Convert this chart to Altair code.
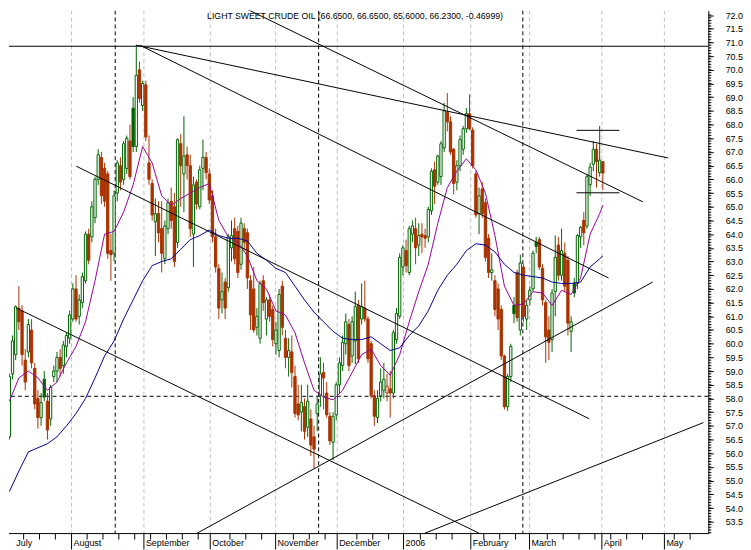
import altair as alt
import pandas as pd

title_text = "LIGHT SWEET CRUDE OIL (66.6500, 66.6500, 65.6000, 66.2300, -0.46999)"

# ---- daily candles (bar index 0 = first session of July 2005) ----
opens = [
    56.6, 58.9, 59.6, 61.3, 61.2, 59.4, 59.7, 60.5, 59.1, 58.0, 57.3, 58.7, 57.9, 57.25, 58.8, 59.0, 59.5, 59.2, 59.9, 60.2,
    60.9, 62.0, 61.0, 61.5, 62.3, 64.0, 63.9, 64.6, 66.0, 66.8, 66.4, 66.2, 63.4, 63.3, 65.5, 66.5, 66.0, 66.4, 67.4, 68.6, 67.2, 70.0, 68.7,
    69.45, 66.6, 65.85, 64.45, 64.75, 64.2, 63.1, 64.2, 65.2, 65.0, 63.7, 67.3, 66.2, 66.9, 66.5, 64.0, 65.9, 65.0, 66.4, 66.8,
    66.2, 65.4, 63.9, 62.75, 61.6, 62.25, 62.05, 63.5, 64.2, 64.1, 62.9, 64.2, 64.05, 62.3, 62.0, 60.6, 60.2, 62.3, 60.9, 61.6, 61.25, 60.0,
    59.75, 62.1, 60.2, 59.5, 59.7, 58.8, 57.8, 57.5, 57.7, 56.95, 57.25, 56.6, 57.45, 58.1, 58.95, 58.2, 57.35, 56.4, 57.4, 58.5, 59.2,
    60.0, 60.7, 59.55, 60.1, 61.4, 60.9, 61.3, 60.9, 60.0, 58.1, 57.3, 58.1, 58.3, 58.2, 58.35, 58.2, 60.15, 61.0,
    62.8, 63.4, 62.6, 64.0, 64.2, 63.6, 64.0, 63.95, 63.9, 64.85, 66.35, 65.9, 66.1, 67.15, 68.45, 68.1, 67.1, 65.9, 66.5, 67.1, 67.85, 68.4,
    67.8, 66.2, 64.75, 65.65, 65.15, 63.85, 62.6, 62.3, 62.0, 61.25, 59.55, 57.7, 58.8, 61.4, 62.6, 60.5, 62.8, 60.9,
    61.6, 62.0, 63.7, 63.8, 62.75, 61.5, 60.5, 60.15, 61.9, 63.6, 62.5, 63.3, 63.05, 60.45, 62.2, 62.2, 63.9, 64.5, 64.3, 65.8, 66.55, 67.1, 66.25, 66.65,
]
highs = [
    58.9, 60.3, 61.4, 62.1, 61.4, 59.8, 60.9, 60.9, 59.3, 58.3, 58.2, 59.0, 58.2, 58.5, 59.2, 59.7, 59.8, 60.1, 60.4, 61.2,
    62.2, 62.5, 61.8, 62.6, 64.1, 64.2, 65.2, 66.1, 67.1, 67.0, 66.6, 66.3, 64.0, 65.6, 66.7, 66.8, 67.4, 67.6, 68.0, 69.0, 70.9, 70.3, 69.6,
    69.6, 67.6, 66.0, 65.3, 65.2, 65.2, 64.5, 65.3, 65.7, 65.5, 67.5, 67.65, 68.3, 67.2, 66.9, 66.1, 66.0, 66.5, 67.45, 67.0,
    66.4, 65.6, 64.2, 62.9, 62.6, 62.4, 64.0, 64.5, 64.6, 64.3, 64.6, 64.4, 64.2, 62.5, 62.8, 61.3, 62.3, 62.5, 61.7, 61.8, 61.4, 60.8,
    62.0, 62.3, 60.5, 60.2, 60.3, 59.2, 58.5, 58.5, 58.0, 58.5, 57.6, 57.0, 58.1, 59.5, 59.3, 58.6, 57.5, 57.5, 58.6, 59.5, 60.3,
    61.1, 60.9, 61.0, 61.9, 61.6, 62.2, 62.3, 61.0, 60.1, 58.3, 58.3, 59.1, 59.3, 58.9, 59.0, 60.5, 61.3, 63.3,
    63.6, 63.8, 64.3, 64.5, 64.6, 64.4, 64.4, 64.2, 65.0, 66.4, 66.65, 66.9, 67.4, 68.8, 69.15, 68.3, 67.15, 66.7, 67.6, 67.95, 68.6, 69.1,
    67.9, 66.3, 65.7, 65.9, 65.3, 64.0, 63.3, 62.5, 62.2, 61.4, 59.6, 58.9, 60.0, 61.7, 62.7, 63.25, 62.9, 61.6,
    62.1, 63.4, 63.9, 63.9, 62.9, 61.6, 61.0, 62.0, 63.95, 63.9, 64.2, 63.7, 63.2, 61.0, 62.4, 64.0, 64.3, 64.8, 66.2, 66.6, 67.4, 67.3, 67.95, 66.65,
]
lows = [
    56.5, 58.7, 59.4, 60.5, 59.2, 58.3, 59.5, 59.1, 57.6, 56.9, 57.0, 57.9, 56.5, 57.0, 58.6, 58.6, 58.8, 58.9, 59.5, 60.0,
    60.8, 60.8, 60.7, 61.3, 62.2, 62.9, 63.7, 64.4, 65.8, 65.1, 65.0, 63.1, 62.3, 63.0, 65.2, 65.6, 65.8, 66.2, 66.0, 67.0, 67.0, 68.8, 68.5,
    67.4, 65.8, 64.5, 63.2, 63.7, 62.6, 62.9, 64.0, 64.2, 62.8, 63.5, 65.0, 64.8, 66.0, 63.9, 62.8, 64.9, 64.9, 65.6, 66.0,
    65.1, 63.7, 62.6, 60.9, 61.1, 60.9, 61.9, 63.0, 62.9, 62.4, 62.7, 63.4, 62.0, 60.5, 60.4, 60.3, 60.0, 61.2, 60.3, 60.8, 59.9, 59.6,
    59.5, 60.3, 59.1, 58.8, 58.4, 57.3, 57.2, 56.8, 56.5, 56.6, 55.9, 55.45, 56.8, 57.7, 57.6, 57.3, 56.3, 55.75, 57.2, 58.2, 59.0,
    59.6, 59.0, 59.3, 59.25, 59.3, 60.7, 60.8, 59.3, 58.0, 57.0, 57.1, 57.9, 58.0, 57.9, 57.3, 58.0, 60.0, 60.9,
    62.5, 62.6, 62.5, 63.7, 62.9, 63.2, 63.3, 63.5, 63.7, 64.7, 65.1, 65.8, 65.8, 67.0, 67.75, 66.9, 65.45, 65.6, 66.3, 66.9, 67.7, 67.8,
    66.4, 64.6, 64.0, 64.6, 63.0, 62.4, 62.3, 61.0, 60.5, 59.4, 57.6, 57.55, 58.6, 60.75, 60.8, 60.3, 60.8, 60.5,
    61.4, 61.9, 63.3, 62.7, 61.4, 59.3, 59.4, 59.7, 61.0, 62.3, 62.3, 61.9, 60.3, 59.7, 61.7, 62.0, 63.5, 63.6, 64.2, 65.4, 66.3, 65.7, 66.1, 65.6,
]
closes = [
    58.8, 60.1, 61.35, 60.8, 59.6, 58.6, 60.7, 59.3, 57.8, 57.3, 57.85, 58.05, 56.85, 58.4, 59.0, 59.5, 59.1, 59.95, 60.3, 61.05,
    62.0, 60.9, 61.6, 62.45, 64.0, 63.05, 65.0, 66.0, 66.9, 65.4, 65.2, 63.3, 63.25, 65.4, 66.6, 65.9, 67.3, 67.5, 66.1, 67.2, 69.8, 68.95, 69.5,
    67.55, 66.0, 64.7, 64.75, 64.05, 63.3, 64.3, 65.15, 64.5, 63.0, 67.45, 66.5, 66.85, 66.5, 64.2, 65.8, 65.1, 66.35, 66.8, 66.25,
    65.25, 63.9, 62.8, 61.3, 61.9, 61.3, 63.9, 63.95, 63.1, 62.6, 64.4, 63.7, 62.4, 61.05, 60.5, 61.0, 62.2, 61.5, 61.6, 61.0, 60.15, 60.5,
    61.8, 60.6, 59.5, 59.75, 58.95, 57.45, 57.4, 57.85, 56.8, 57.9, 56.3, 56.15, 57.8, 58.9, 58.75, 57.4, 56.45, 57.35, 58.5, 59.3, 60.05,
    60.8, 59.2, 60.8, 61.35, 59.45, 61.35, 60.9, 59.45, 58.1, 57.35, 58.0, 58.6, 58.7, 58.45, 58.2, 60.4, 61.1, 63.15,
    63.5, 62.85, 64.2, 64.3, 63.5, 63.95, 63.9, 63.85, 64.9, 66.3, 65.75, 66.85, 67.3, 68.5, 68.1, 67.0, 65.85, 66.5, 67.45, 67.85, 68.4, 67.85,
    66.5, 64.7, 65.4, 64.75, 63.15, 62.6, 62.7, 61.25, 60.9, 59.55, 57.7, 58.8, 59.9, 61.1, 60.95, 62.95, 61.0, 61.4,
    61.95, 63.3, 63.55, 62.8, 61.6, 60.25, 60.05, 61.85, 63.15, 62.5, 63.4, 62.1, 60.75, 60.8, 61.85, 63.95, 64.25, 64.05, 66.1, 66.45, 67.1, 66.65, 66.7, 66.23,
]

# ---- moving averages (every third session) ----
ma_index = list(range(0, 187, 3)) + [187]
ma_fast = [57.9, 58.75, 59.0, 58.75, 58.3, 58.6, 59.3, 59.9, 60.8, 62.3, 64.0, 64.1, 64.8, 65.8, 67.2, 66.6,
           65.4, 65.05, 65.3, 65.5, 65.7, 65.85, 64.5, 63.9, 63.7, 63.2, 62.3, 62.0, 61.2, 61.05, 60.4, 59.3,
           58.3, 58.05, 57.95, 58.3, 58.95, 59.6, 59.8, 59.2, 58.85, 59.6, 60.8, 61.9, 62.9, 64.4, 65.7, 66.3,
           66.75, 66.35, 65.5, 63.95, 62.1, 61.4, 61.45, 61.9, 61.85, 61.4, 61.95, 61.8, 62.4, 64.0, 64.75, 65.05]
ma_slow = [54.6, 55.35, 56.05, 56.2, 56.35, 56.6, 57.0, 57.45, 58.0, 58.75, 59.55, 60.1, 60.9, 61.6, 62.3, 62.85,
           63.0, 63.1, 63.45, 63.8, 63.95, 64.15, 63.95, 63.85, 63.85, 63.75, 63.3, 63.05, 62.75, 62.6, 62.1, 61.6,
           61.15, 60.8, 60.45, 60.2, 60.15, 60.15, 60.25, 60.0, 59.75, 59.85, 60.3, 60.65, 61.2, 61.95, 62.5, 62.9,
           63.4, 63.65, 63.6, 63.35, 62.9, 62.6, 62.5, 62.45, 62.4, 62.25, 62.2, 62.2, 62.25, 62.8, 63.1, 63.2]

# ---- x-axis months (positions on the session-index scale) ----
month_names = ["July", "August", "September", "October", "November", "December", "2006",
               "February", "March", "April", "May"]
month_pos = [-0.4, 19.6, 42.4, 63.3, 83.9, 103.3, 124.2, 145.4, 163.9, 186.7, 206.4]

# ---- annotations ----
marker_pos = [33.35, 97.45, 161.8]          # black dashed verticals
level_solid = [70.86]
level_dashed = [58.08]
trend_x0 = [39.9, 41.1, 70.7, 21.1, 2.06, 59.0, 130.7, 178.7, 178.7]
trend_y0 = [70.9, 70.9, 72.45, 66.48, 61.31, 53.07, 53.07, 67.79, 65.51]
trend_x1 = [207.6, 188.8, 199.6, 182.7, 148.2, 202.7, 218.7, 192.2, 192.2]
trend_y1 = [66.78, 62.4, 65.18, 57.26, 53.07, 62.25, 57.12, 67.79, 65.51]

assert len(opens) == len(highs) == len(lows) == len(closes)
assert len(ma_index) == len(ma_fast) == len(ma_slow)

# ---- layout ----
X_MIN, X_MAX = 1.446, 218.68
Y_MIN, Y_MAX = 53.067, 72.163
W, H = 706, 528
GREEN, RED = "#006400", "#AA3300"
FONT = "Liberation Sans"

n = len(closes)
prev = [opens[0]] + closes[:-1]
col = [GREEN if c >= p else RED for c, p in zip(closes, prev)]
fillc = ["#FFFFFF" if c > o else k for c, o, k in zip(closes, opens, col)]
candles = pd.DataFrame({"i": list(range(n)), "open": opens, "high": highs, "low": lows,
                        "close": closes, "col": col, "fillc": fillc})
ma_df = pd.DataFrame({"i": ma_index, "fast": ma_fast, "slow": ma_slow})
months = pd.DataFrame({"pos": month_pos, "name": month_names})
months["lpos"] = [max(p, X_MIN + 0.1) for p in month_pos]
months_in = months[months["pos"] >= X_MIN]
weeks = pd.DataFrame({"pos": [p for p in [4.5 + 5 * k for k in range(44)]
                              if X_MIN <= p <= X_MAX and min(abs(p - m) for m in month_pos) > 2]})
markers = pd.DataFrame({"pos": marker_pos})
trend = pd.DataFrame({"x0": trend_x0, "y0": trend_y0, "x1": trend_x1, "y1": trend_y1})
minor = pd.DataFrame({"v": [round(53.1 + 0.1 * k, 1) for k in range(190)]})
minor = minor[(minor["v"] > Y_MIN) & (minor["v"] < Y_MAX)]

xs = alt.Scale(domain=[X_MIN, X_MAX], nice=False, zero=False)
ys = alt.Scale(domain=[Y_MIN, Y_MAX], nice=False, zero=False)
yaxis = alt.Axis(orient="right", values=[53.5 + 0.5 * k for k in range(38)], format=".1f",
                 tickSize=5, labelPadding=12, labelFont=FONT, labelFontSize=9,
                 labelColor="black", domainColor="black", tickColor="black",
                 title=None, grid=False, labelOverlap=False, labelFlush=False)


def X(f):
    return alt.X(f, type="quantitative", scale=xs, axis=None)


def Y(f):
    return alt.Y(f, type="quantitative", scale=ys, axis=yaxis)


grid = alt.Chart(months).mark_rule(color="#C0C0C0", strokeDash=[4, 3], strokeWidth=1, clip=True).encode(x=X("pos"))
mk = alt.Chart(markers).mark_rule(color="black", strokeDash=[4, 3], strokeWidth=1, clip=True).encode(x=X("pos"))
hsolid = alt.Chart(pd.DataFrame({"p": level_solid})).mark_rule(color="black", strokeWidth=1, clip=True).encode(y=Y("p"))
hdash = alt.Chart(pd.DataFrame({"p": level_dashed})).mark_rule(color="black", strokeDash=[4, 3], strokeWidth=1, clip=True).encode(y=Y("p"))

wicks = alt.Chart(candles).mark_rule(strokeWidth=1, clip=True).encode(
    x=X("i"), y=Y("low"), y2="high", color=alt.Color("col:N", scale=None))
bodies = alt.Chart(candles).mark_bar(size=2.3, strokeWidth=1, clip=True).encode(
    x=X("i"), y=Y("open"), y2="close",
    fill=alt.Fill("fillc:N", scale=None), stroke=alt.Stroke("col:N", scale=None))

fast = alt.Chart(ma_df).mark_line(color="#990099", strokeWidth=1, clip=True).encode(x=X("i"), y=Y("fast"))
slow = alt.Chart(ma_df).mark_line(color="#000099", strokeWidth=1, clip=True).encode(x=X("i"), y=Y("slow"))

tl = alt.Chart(trend).mark_rule(color="black", strokeWidth=1, clip=True).encode(
    x=X("x0"), y=Y("y0"), x2="x1", y2="y1")

axis_line = alt.Chart(pd.DataFrame({"a": [0]})).mark_rule(color="black", strokeWidth=1).encode(
    x=alt.value(0), x2=alt.value(W), y=alt.value(H))
mticks = alt.Chart(months_in).mark_rule(color="black", strokeWidth=1).encode(
    x=X("pos"), y=alt.value(H), y2=alt.value(H + 16))
wticks = alt.Chart(weeks).mark_rule(color="black", strokeWidth=1).encode(
    x=X("pos"), y=alt.value(H), y2=alt.value(H + 6))
mlabels = alt.Chart(months).mark_text(align="left", baseline="alphabetic", dx=2, font=FONT,
                                      fontSize=9, color="black").encode(
    x=X("lpos"), y=alt.value(H + 13), text="name:N")
yminor = alt.Chart(minor).mark_rule(color="black", strokeWidth=1).encode(
    y=Y("v"), x=alt.value(W), x2=alt.value(W + 3))
title = alt.Chart(pd.DataFrame({"t": [title_text]})).mark_text(
    align="left", baseline="alphabetic", font=FONT, fontSize=8.8, color="black").encode(
    x=alt.value(200), y=alt.value(9), text="t:N")

chart = alt.layer(
    grid, mk, hsolid, hdash, wicks, bodies, fast, slow, tl,
    axis_line, mticks, wticks, mlabels, yminor, title
).properties(width=W, height=H, padding=0).configure_view(strokeWidth=0)

chart.save("out.html", embed_options={"renderer": "svg", "actions": False})
